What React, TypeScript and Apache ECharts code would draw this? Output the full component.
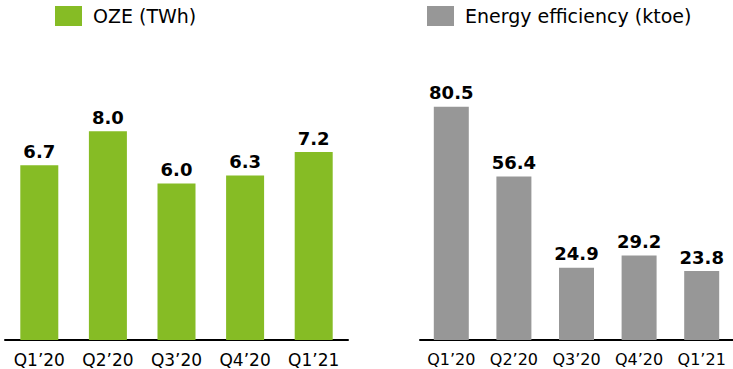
import React, { useEffect, useRef } from "react";
import * as echarts from "echarts";

const quarters = ["Q1\u201920", "Q2\u201920", "Q3\u201920", "Q4\u201920", "Q1\u201921"];
const ozeTWh = [6.7, 8.0, 6.0, 6.3, 7.2];
const efficiencyKtoe = [80.5, 56.4, 24.9, 29.2, 23.8];
const seriesNames = ["OZE (TWh)", "Energy efficiency (ktoe)"];

const GREEN = "#86bc25";
const GREY = "#979797";
const FONT = "'DejaVu Sans', Verdana, sans-serif";

export default function App() {
  const ref = useRef<HTMLDivElement>(null);

  useEffect(() => {
    if (!ref.current) return;
    const chart = echarts.init(ref.current, null, { renderer: "svg" });

    const label = {
      show: true,
      position: "top" as const,
      distance: 5,
      color: "#000",
      fontFamily: FONT,
      fontSize: 18,
      fontWeight: "bold" as const,
      formatter: (p: any) => Number(p.value).toFixed(1),
    };

    const xAxisBase = (fontSize: number) => ({
      type: "category" as const,
      data: quarters,
      axisTick: { show: false },
      axisLine: { lineStyle: { color: "#000", width: 2 } },
      axisLabel: {
        color: "#000",
        fontFamily: FONT,
        fontSize,
        margin: 11,
        interval: 0,
        hideOverlap: false,
      },
    });

    const yAxisBase = {
      type: "value" as const,
      min: 0,
      show: false,
      splitLine: { show: false },
    };

    const legendBase = {
      top: 6,
      padding: 0,
      itemWidth: 27,
      itemHeight: 20,
      icon: "rect",
      selectedMode: false,
      textStyle: { color: "#000", fontSize: 19, fontFamily: FONT, padding: [0, 0, 0, 6] },
    };

    chart.setOption({
      animation: false,
      textStyle: { fontFamily: FONT },
      legend: [
        { ...legendBase, data: [seriesNames[0]], left: 55 },
        { ...legendBase, data: [seriesNames[1]], left: 427 },
      ],
      grid: [
        { left: 5, width: 343, top: 79, height: 261 },
        { left: 420, width: 314.5, top: 50.3, height: 289.7 },
      ],
      xAxis: [
        { ...xAxisBase(17), gridIndex: 0 },
        { ...xAxisBase(16), gridIndex: 1 },
      ],
      yAxis: [
        { ...yAxisBase, gridIndex: 0, max: 10 },
        { ...yAxisBase, gridIndex: 1, max: 100 },
      ],
      series: [
        {
          name: seriesNames[0],
          type: "bar",
          xAxisIndex: 0,
          yAxisIndex: 0,
          data: ozeTWh,
          barWidth: 38,
          itemStyle: { color: GREEN },
          label,
        },
        {
          name: seriesNames[1],
          type: "bar",
          xAxisIndex: 1,
          yAxisIndex: 1,
          data: efficiencyKtoe,
          barWidth: 35,
          itemStyle: { color: GREY },
          label,
        },
      ],
    });

    return () => chart.dispose();
  }, []);

  return <div ref={ref} style={{ width: 733, height: 369, position: "absolute", left: 0, top: 0 }} />;
}
